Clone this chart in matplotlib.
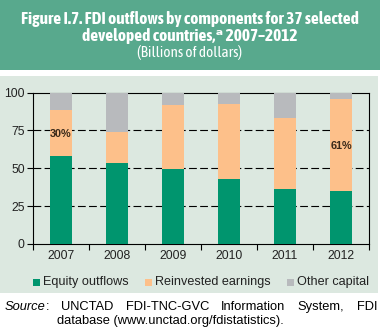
import matplotlib
matplotlib.use("Agg")
import matplotlib.pyplot as plt
from matplotlib.patches import Rectangle
from matplotlib import font_manager as fm

years = ["2007", "2008", "2009", "2010", "2011", "2012"]
equity = [57.9, 53.7, 49.3, 43.0, 36.4, 35.1]
reinvested = [30.3, 20.2, 42.3, 49.3, 46.7, 60.9]
other = [11.8, 26.1, 8.4, 7.7, 16.9, 4.0]
labels = {0: "30%", 5: "61%"}
label_y = {0: 72.5, 5: 64.5}
yticks = [0, 25, 50, 75, 100]
series_names = ["Equity outflows", "Reinvested earnings", "Other capital"]

C_BANNER = "#58a98d"
C_PANEL = "#dce8e0"
C_GREEN = "#00956e"
C_ORANGE = "#fdc08a"
C_GREY = "#b8babd"

plt.rcParams["font.family"] = ["Liberation Sans", "DejaVu Sans"]

# pick a narrow font for the banner if one is installed
names = {f.name for f in fm.fontManager.ttflist}
narrow_fam = None
for f in fm.fontManager.ttflist:
    if ("Condensed" in f.name or "Narrow" in f.name) and f.weight in (700, "bold"):
        narrow_fam = f.name
        break
cond_stretch = None
if narrow_fam is None:
    for f in fm.fontManager.ttflist:
        if f.stretch in ("condensed", "semi-condensed", 75, 87.5) and f.name in names:
            narrow_fam = f.name
            cond_stretch = "condensed"
            break
if narrow_fam is None:
    narrow_fam = "Lato" if "Lato" in names else "DejaVu Sans"
banner_family = [narrow_fam, "DejaVu Sans"]

fig = plt.figure(figsize=(3.8, 3.32), dpi=100)
fig.patch.set_facecolor("white")
renderer = fig.canvas.get_renderer()

# banner and panel
fig.add_artist(Rectangle((0, 1 - 70/332), 1, 70/332, transform=fig.transFigure,
                         facecolor=C_BANNER, edgecolor="none", zorder=0))
fig.add_artist(Rectangle((0, 1 - 293/332), 378/380, (293-76)/332, transform=fig.transFigure,
                         facecolor=C_PANEL, edgecolor="none", zorder=0))

kw = dict(family=banner_family)
if cond_stretch:
    kw["fontstretch"] = cond_stretch
t1 = fig.text(0.5, 1 - 19/332, "Figure I.7. FDI outflows by components for 37 selected",
              ha="center", va="center", color="white", fontsize=12, fontweight="bold", **kw)
bb = t1.get_window_extent(renderer)
fs_title = min(12.5, 12 * 356 / bb.width)
t1.set_fontsize(fs_title)
fig.text(0.5, 1 - 36/332, "developed countries,\u1d43 2007\u20132012",
         ha="center", va="center", color="white", fontsize=fs_title, fontweight="bold", **kw)
t3 = fig.text(0.5, 1 - 53/332, "(Billions of dollars)",
              ha="center", va="center", color="white", fontsize=10, **kw)
bb3 = t3.get_window_extent(renderer)
t3.set_fontsize(min(11, 10 * 117 / bb3.width))

ax = fig.add_axes([33/380, 1 - 244/332, (369-33)/380, (244-92.5)/332])
ax.set_facecolor("none")
x = list(range(len(years)))
w = 0.41
bottom2 = [e + r for e, r in zip(equity, reinvested)]
ax.bar(x, equity, width=w, color=C_GREEN, zorder=3)
ax.bar(x, reinvested, width=w, bottom=equity, color=C_ORANGE, zorder=3)
ax.bar(x, other, width=w, bottom=bottom2, color=C_GREY, zorder=3)

for i, t in labels.items():
    ax.text(i, label_y[i], t, ha="center", va="center", fontsize=7.8,
            fontweight="bold", color="#3a2a1a", zorder=4)

ax.set_xlim(-0.5, 5.5)
ax.set_ylim(0, 100)
ax.set_yticks(yticks)
ax.set_yticklabels([str(v) for v in yticks], fontsize=8.8, color="#222222")
ax.set_xticks(x)
ax.set_xticklabels(years, fontsize=8.8, color="#222222")
ax.set_xticks([i - 0.5 for i in range(len(years) + 1)], minor=True)
ax.tick_params(axis="x", which="major", length=0, pad=4)
ax.tick_params(axis="x", which="minor", length=4, width=0.8, direction="out")
ax.tick_params(axis="y", length=4, width=0.8, direction="out", pad=2)
for yv in [25, 50, 75]:
    ax.axhline(yv, color="black", linewidth=0.8, linestyle=(0, (7, 3)), zorder=1)
for s in ax.spines.values():
    s.set_linewidth(0.8)
    s.set_zorder(2)

# legend (manual placement to match reference)
leg_x = [33, 145, 287]
leg_y = 282
for px, c, name in zip(leg_x, (C_GREEN, C_ORANGE, C_GREY), series_names):
    fig.add_artist(Rectangle((px/380, 1 - (leg_y + 3.5)/332), 7/380, 7/332,
                             transform=fig.transFigure, facecolor=c, edgecolor="none"))
    fig.text((px + 10)/380, 1 - leg_y/332, name, fontsize=9.1, va="center", ha="left",
             color="#222222")

# source note, first line justified between x=5 and x=377
fs_src = 9.3
words = ["Source:", "UNCTAD", "FDI-TNC-GVC", "Information", "System,", "FDI"]
arts = []
for wd in words:
    if wd == "Source:":
        a = fig.text(0, 1 - 307/332, "Source", style="italic", fontsize=fs_src,
                     va="center", ha="left")
        b = fig.text(0, 1 - 307/332, ":", fontsize=fs_src, va="center", ha="left")
        arts.append((a, b))
    else:
        arts.append((fig.text(0, 1 - 307/332, wd, fontsize=fs_src, va="center", ha="left"), None))
widths = []
for a, b in arts:
    wa = a.get_window_extent(renderer).width
    wb = b.get_window_extent(renderer).width if b is not None else 0
    widths.append((wa, wb))
total = sum(wa + wb for wa, wb in widths)
gap = (377 - 5 - total) / (len(arts) - 1)
cur = 5
for (a, b), (wa, wb) in zip(arts, widths):
    a.set_x(cur / 380)
    if b is not None:
        b.set_x((cur + wa) / 380)
    cur += wa + wb + gap
fig.text(57/380, 1 - 321/332, "database (www.unctad.org/fdistatistics).",
         fontsize=fs_src, va="center", ha="left")

fig.savefig("out.png", dpi=100, facecolor="white")
